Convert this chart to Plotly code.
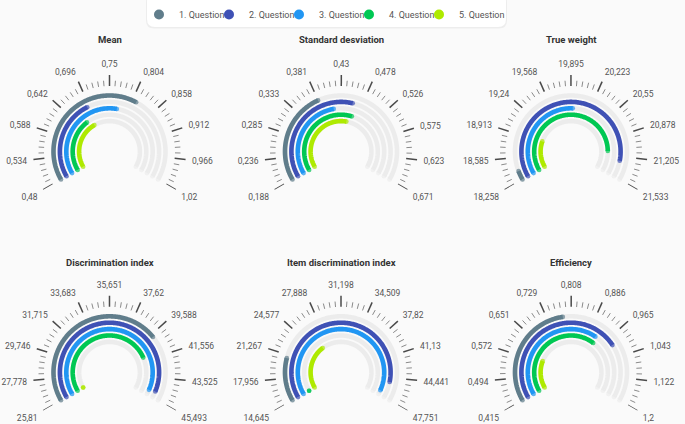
import numpy as np
import plotly.graph_objects as go

W, H = 685, 424

questions = ["1. Question", "2. Question", "3. Question", "4. Question", "5. Question"]
colors = ["#607d8b", "#3f51b5", "#2196f3", "#00c853", "#aeea00"]

titles = ["Mean", "Standard desviation", "True weight",
          "Discrimination index", "Item discrimination index", "Efficiency"]

# values per gauge (one per question)
mean_values = [0.814, 0.690, 0.772, 0.665, 0.683]
sd_values = [0.381, 0.457, 0.410, 0.464, 0.450]
tw_values = [18.388, 21.271, 19.927, 21.113, 18.932]
di_values = [39.83, 44.90, 45.00, 41.10, 25.81]
idi_values = [20.80, 45.17, 46.99, 14.645, 26.11]
eff_values = [0.780, 0.993, 0.920, 0.929, 0.584]

# tick labels per gauge
mean_ticks = ["0,48", "0,534", "0,588", "0,642", "0,696", "0,75", "0,804", "0,858", "0,912", "0,966", "1,02"]
sd_ticks = ["0,188", "0,236", "0,285", "0,333", "0,381", "0,43", "0,478", "0,526", "0,575", "0,623", "0,671"]
tw_ticks = ["18,258", "18,585", "18,913", "19,24", "19,568", "19,895", "20,223", "20,55", "20,878", "21,205", "21,533"]
di_ticks = ["25,81", "27,778", "29,746", "31,715", "33,683", "35,651", "37,62", "39,588", "41,556", "43,525", "45,493"]
idi_ticks = ["14,645", "17,956", "21,267", "24,577", "27,888", "31,198", "34,509", "37,82", "41,13", "44,441", "47,751"]
eff_ticks = ["0,415", "0,494", "0,572", "0,651", "0,729", "0,808", "0,886", "0,965", "1,043", "1,122", "1,2"]

all_values = [mean_values, sd_values, tw_values, di_values, idi_values, eff_values]
all_ticks = [mean_ticks, sd_ticks, tw_ticks, di_ticks, idi_ticks, eff_ticks]

# ---- geometry / style ----
START, END = -120.0, 120.0
RING_R = [56, 49.6, 43.2, 36.8, 30.4]
ARC_W = 4.6
R_AX = 82.5          # radius where the angular tick labels sit
MAJOR_OUT = 76.5
TICK_IN = 65.5
MINOR_OUT = 71.0
TRACK = "#ececec"
centers = [(109.5, 151.5), (341, 151.5), (571, 151.5),
           (109.5, 372.3), (341, 372.3), (571, 372.3)]
title_y = [39.8, 39.8, 39.8, 262, 262, 262]


def num(s):
    return float(s.replace(",", "."))


def to_theta(v, lo, hi):
    return START + (v - lo) / (hi - lo) * (END - START)


def arc(r, t0, t1, color, sub):
    n = max(int(abs(t1 - t0) / 1.0) + 2, 2)
    th = np.linspace(t0, t1, n)
    sizes = np.zeros(n)
    sizes[0] = sizes[-1] = ARC_W
    return go.Scatterpolar(
        r=np.full(n, r), theta=th, mode="lines+markers",
        line=dict(color=color, width=ARC_W),
        marker=dict(size=sizes, color=color, line=dict(width=0)),
        cliponaxis=False, showlegend=False, hoverinfo="skip", subplot=sub)


def tick_trace(thetas, r_out, color, width, sub):
    rr, tt = [], []
    for t in thetas:
        rr += [TICK_IN, r_out, None]
        tt += [t, t, None]
    return go.Scatterpolar(r=rr, theta=tt, mode="lines",
                           line=dict(color=color, width=width),
                           showlegend=False, hoverinfo="skip", subplot=sub)


fig = go.Figure()
layout_polars = {}

for k, (cx, cy) in enumerate(centers):
    sub = "polar" if k == 0 else f"polar{k + 1}"
    ticks = all_ticks[k]
    lo, hi = num(ticks[0]), num(ticks[-1])
    vals = all_values[k]

    # background tracks
    for r in RING_R:
        fig.add_trace(arc(r, START, END, TRACK, sub))
    # value arcs
    for q, (r, v) in enumerate(zip(RING_R, vals)):
        fig.add_trace(arc(r, START, to_theta(v, lo, hi), colors[q], sub))

    # ticks (5 subdivisions between labelled values)
    major_theta = [to_theta(num(s), lo, hi) for s in ticks]
    minor_theta = []
    for a, b in zip(major_theta[:-1], major_theta[1:]):
        minor_theta += [a + (b - a) * i / 5 for i in range(1, 5)]
    fig.add_trace(tick_trace(minor_theta, MINOR_OUT, "#8a8a8a", 1, sub))
    fig.add_trace(tick_trace(major_theta, MAJOR_OUT, "#4a4a4a", 1.5, sub))

    x0, x1 = (cx - R_AX) / W, (cx + R_AX) / W
    ytop, ybot = cy - R_AX, cy + 0.5 * R_AX
    layout_polars[sub] = dict(
        domain=dict(x=[x0, x1], y=[1 - ybot / H, 1 - ytop / H]),
        sector=[-30, 210], hole=0, bgcolor="rgba(0,0,0,0)",
        radialaxis=dict(visible=False, range=[0, R_AX]),
        angularaxis=dict(type="linear", rotation=90, direction="clockwise",
                         tickmode="array", tickvals=major_theta, ticktext=ticks,
                         ticks="", showline=False, showgrid=False,
                         tickfont=dict(family="Roboto", size=8.5, color="#555555")),
    )

# legend-only entries
for q, name in enumerate(questions):
    fig.add_trace(go.Scatterpolar(r=[None], theta=[None], mode="markers", name=name,
                                  marker=dict(size=10, color=colors[q]),
                                  legendwidth=25 if q < 4 else 50,
                                  subplot="polar"))

annotations = []
for k, (cx, cy) in enumerate(centers):
    annotations.append(dict(x=cx / W, y=1 - title_y[k] / H, xref="paper", yref="paper",
                            text=titles[k], showarrow=False, xanchor="center", yanchor="middle",
                            font=dict(family="Roboto", size=9.5, color="#333333", weight="bold")))


def rrect(x0, y0, x1, y1, r):
    def P(x, y):
        return f"{x / W:.5f},{1 - y / H:.5f}"
    return (f"M{P(x0 + r, y0)} L{P(x1 - r, y0)} Q{P(x1, y0)} {P(x1, y0 + r)} "
            f"L{P(x1, y1 - r)} Q{P(x1, y1)} {P(x1 - r, y1)} L{P(x0 + r, y1)} "
            f"Q{P(x0, y1)} {P(x0, y1 - r)} L{P(x0, y0 + r)} Q{P(x0, y0)} {P(x0 + r, y0)} Z")


shapes = [
    dict(type="path", xref="paper", yref="paper", layer="below",
         path=rrect(146, -6, 507, 28.5, 8), fillcolor="rgba(0,0,0,0.05)", line=dict(width=0)),
    dict(type="path", xref="paper", yref="paper", layer="below",
         path=rrect(147, -6, 506, 27, 8), fillcolor="#ffffff", line=dict(width=0)),
]

fig.update_layout(
    width=W, height=H, margin=dict(l=0, r=0, t=0, b=0),
    paper_bgcolor="#fafafa", plot_bgcolor="#fafafa",
    font=dict(family="Roboto", color="#555555"),
    showlegend=True,
    legend=dict(orientation="h", x=139 / W, xanchor="left", y=1, yanchor="top",
                bgcolor="rgba(0,0,0,0)", borderwidth=0,
                font=dict(family="Roboto", size=9, color="#555555"),
                entrywidthmode="pixels"),
    annotations=annotations, shapes=shapes,
    **layout_polars,
)

fig.write_html("out.html", config={"displayModeBar": False},
               post_script="document.body.style.margin='0px';")
